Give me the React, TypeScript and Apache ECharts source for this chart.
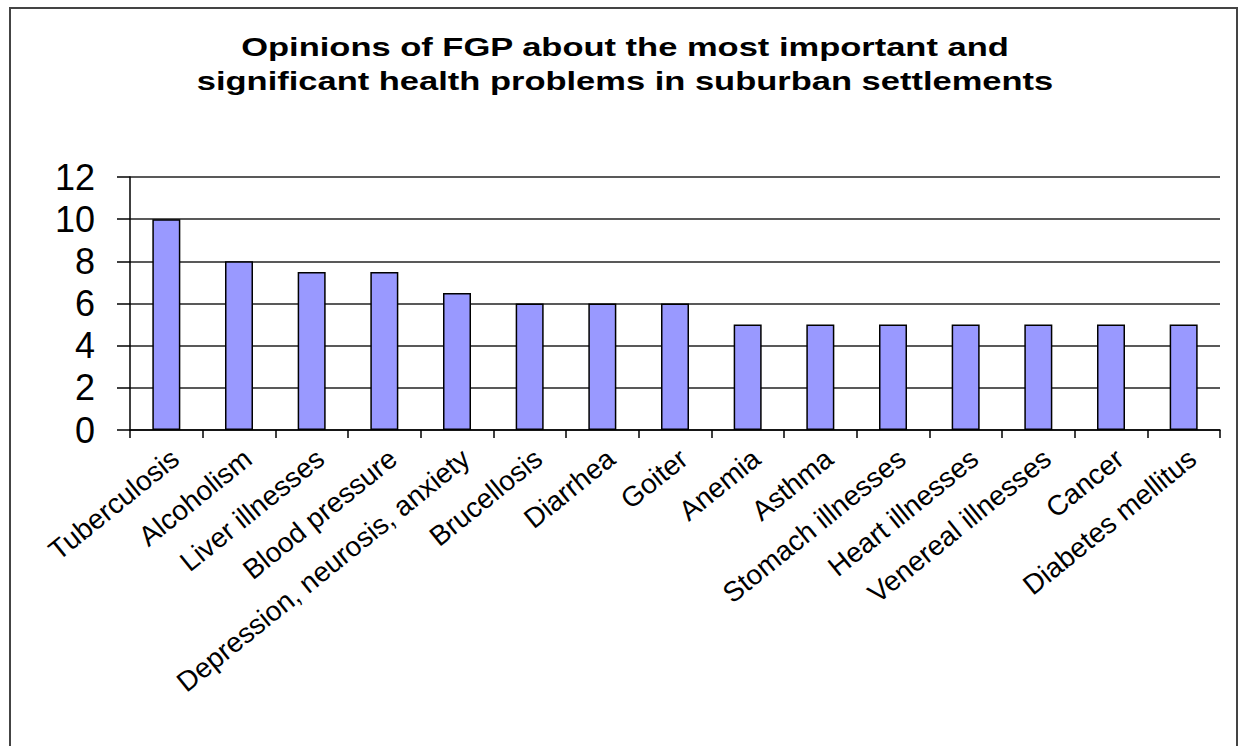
import React, { useEffect, useRef } from "react";
import * as echarts from "echarts";

const titleLines = [
  "Opinions of FGP about the most important and",
  "significant health problems in suburban settlements",
];

const categories = [
  "Tuberculosis",
  "Alcoholism",
  "Liver illnesses",
  "Blood pressure",
  "Depression, neurosis, anxiety",
  "Brucellosis",
  "Diarrhea",
  "Goiter",
  "Anemia",
  "Asthma",
  "Stomach illnesses",
  "Heart illnesses",
  "Venereal illnesses",
  "Cancer",
  "Diabetes mellitus",
];

const values = [10, 8, 7.5, 7.5, 6.5, 6, 6, 6, 5, 5, 5, 5, 5, 5, 5];

const yMin = 0;
const yMax = 12;
const yStep = 2;

const FONT = "'Liberation Sans', Arial, sans-serif";

export default function App() {
  const ref = useRef<HTMLDivElement>(null);

  useEffect(() => {
    if (!ref.current) return;
    const chart = echarts.init(ref.current, undefined, { renderer: "svg" });
    chart.setOption({
      animation: false,
      backgroundColor: "#ffffff",
      graphic: [
        {
          type: "rect",
          shape: { x: 10, y: 8, width: 1227, height: 800 },
          style: { fill: "none", stroke: "#444444", lineWidth: 2 },
          silent: true,
        },
        {
          type: "text",
          x: 625,
          y: 47,
          scaleX: 1.38,
          scaleY: 1.05,
          style: {
            text: titleLines[0],
            font: `bold 25px ${FONT}`,
            fill: "#000000",
            align: "center",
            verticalAlign: "middle",
          },
        },
        {
          type: "text",
          x: 625,
          y: 81,
          scaleX: 1.38,
          scaleY: 1.05,
          style: {
            text: titleLines[1],
            font: `bold 25px ${FONT}`,
            fill: "#000000",
            align: "center",
            verticalAlign: "middle",
          },
        },
      ],
      grid: { left: 130, right: 19, top: 177, bottom: 316, containLabel: false },
      xAxis: {
        type: "category",
        data: categories,
        axisLine: { show: true, lineStyle: { color: "#000000", width: 1.5 } },
        axisTick: { show: true, length: 8, interval: 0, lineStyle: { color: "#000000", width: 1.5 } },
        axisLabel: {
          interval: 0,
          rotate: 39,
          fontSize: 28,
          fontFamily: FONT,
          color: "#000000",
          margin: 14,
          verticalAlign: "top",
        },
        splitLine: { show: false },
      },
      yAxis: {
        type: "value",
        min: yMin,
        max: yMax,
        interval: yStep,
        axisLine: { show: true, lineStyle: { color: "#000000", width: 1.5 } },
        axisTick: { show: true, length: 13, lineStyle: { color: "#000000", width: 1.5 } },
        axisLabel: {
          fontSize: 36,
          fontFamily: FONT,
          color: "#000000",
          margin: 35,
        },
        splitLine: { show: true, lineStyle: { color: "#222222", width: 1.5 } },
      },
      series: [
        {
          type: "bar",
          data: values,
          barWidth: 28,
          itemStyle: { color: "#9999FF", borderColor: "#000000", borderWidth: 1.5 },
        },
      ],
    });
    return () => chart.dispose();
  }, []);

  return (
    <div
      ref={ref}
      style={{ position: "fixed", left: 0, top: 0, width: 1239, height: 746, background: "#fff" }}
    />
  );
}
